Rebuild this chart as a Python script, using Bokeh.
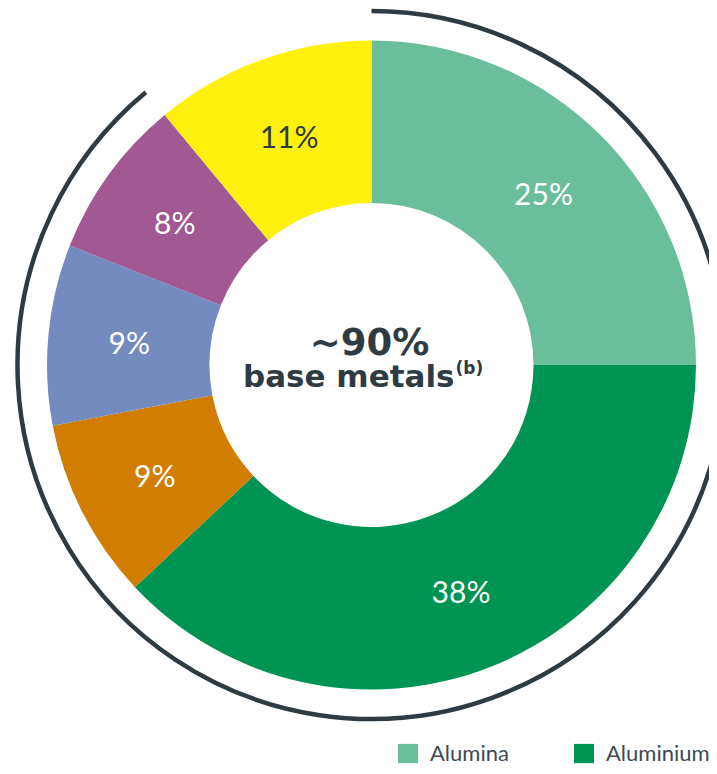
import math
from bokeh.plotting import figure
from bokeh.models import ColumnDataSource, Range1d, Legend, LegendItem
from bokeh.core.properties import value
from bokeh.embed import file_html
from bokeh.resources import INLINE

# ---- data ----
shares = [25, 38, 9, 9, 8, 11]
slice_labels = ["25%", "38%", "9%", "9%", "8%", "11%"]
slice_colors = ["#6ABE9B", "#009454", "#D07D00", "#748BC0", "#A15893", "#FFF00E"]
label_colors = ["#FFFFFF", "#FFFFFF", "#FFFFFF", "#FFFFFF", "#FFFFFF", "#2F3B42"]
legend_names = ["Alumina", "Aluminium"]
base_metal_count = 5
center_title = "~90%"
center_sub = "base metals"
center_sup = "(b)"

# ---- layout ----
W, H = 709, 766
cx, cy = 371, -364.5
r_in, r_out, r_arc = 162, 324.5, 354
r_mid = (r_in + r_out) / 2
DARK = "#2F3B42"

total = sum(shares)
starts, ends, lx, ly = [], [], [], []
cum = 0
for s in shares:
    a0 = math.pi / 2 - 2 * math.pi * cum / total
    cum += s
    a1 = math.pi / 2 - 2 * math.pi * cum / total
    starts.append(a1)
    ends.append(a0)
    mid = (a0 + a1) / 2
    lx.append(cx + r_mid * math.cos(mid))
    ly.append(cy + r_mid * math.sin(mid))

src = ColumnDataSource(dict(
    x=[cx] * len(shares), y=[cy] * len(shares),
    start=starts, end=ends, color=slice_colors,
    lx=lx, ly=ly, label=slice_labels, lcolor=label_colors,
))

p = figure(width=W, height=H, output_backend="svg", toolbar_location=None,
           x_range=Range1d(0, W), y_range=Range1d(-H, 0),
           min_border=0, outline_line_color=None, background_fill_color="white")
p.axis.visible = False
p.grid.visible = False

wedges = p.annular_wedge(x="x", y="y", inner_radius=r_in, outer_radius=r_out,
                         start_angle="start", end_angle="end", color="color",
                         line_color=None, source=src)

p.text(x="lx", y="ly", text="label", source=src, text_color="lcolor",
       text_font=value("Lato"), text_font_size="30px",
       text_align="center", text_baseline="middle")

base_share = sum(shares[:base_metal_count])
arc_end = (math.pi / 2 - 2 * math.pi * base_share / total) % (2 * math.pi)
p.arc(x=[cx], y=[cy], radius=r_arc, start_angle=math.pi / 2, end_angle=arc_end,
      direction="clock", line_width=4.5, line_color=DARK)

p.text(x=[cx], y=[cy], text=[center_title], text_color=DARK,
       text_font=value("DejaVu Sans"), text_font_style="bold", text_font_size="37px",
       text_align="center", text_baseline="middle", x_offset=-2, y_offset=-23)
p.text(x=[cx], y=[cy], text=[center_sub], text_color=DARK,
       text_font=value("DejaVu Sans"), text_font_style="bold", text_font_size="31px",
       text_align="right", text_baseline="middle", x_offset=83, y_offset=11)
p.text(x=[cx], y=[cy], text=[center_sup], text_color=DARK,
       text_font=value("DejaVu Sans"), text_font_style="bold", text_font_size="17px",
       text_align="left", text_baseline="middle", x_offset=84, y_offset=3)

legend = Legend(
    items=[LegendItem(label=n, renderers=[wedges], index=i) for i, n in enumerate(legend_names)],
    orientation="horizontal", location=(395, 0),
    glyph_width=25, glyph_height=24, label_height=24, label_width=130,
    label_standoff=10, spacing=11, padding=0, margin=0,
    label_text_font="Lato", label_text_font_size="22px", label_text_color="#3F4B52",
    border_line_color=None, background_fill_alpha=0,
)
p.add_layout(legend, "center")

open("out.html", "w").write(file_html(p, INLINE))
